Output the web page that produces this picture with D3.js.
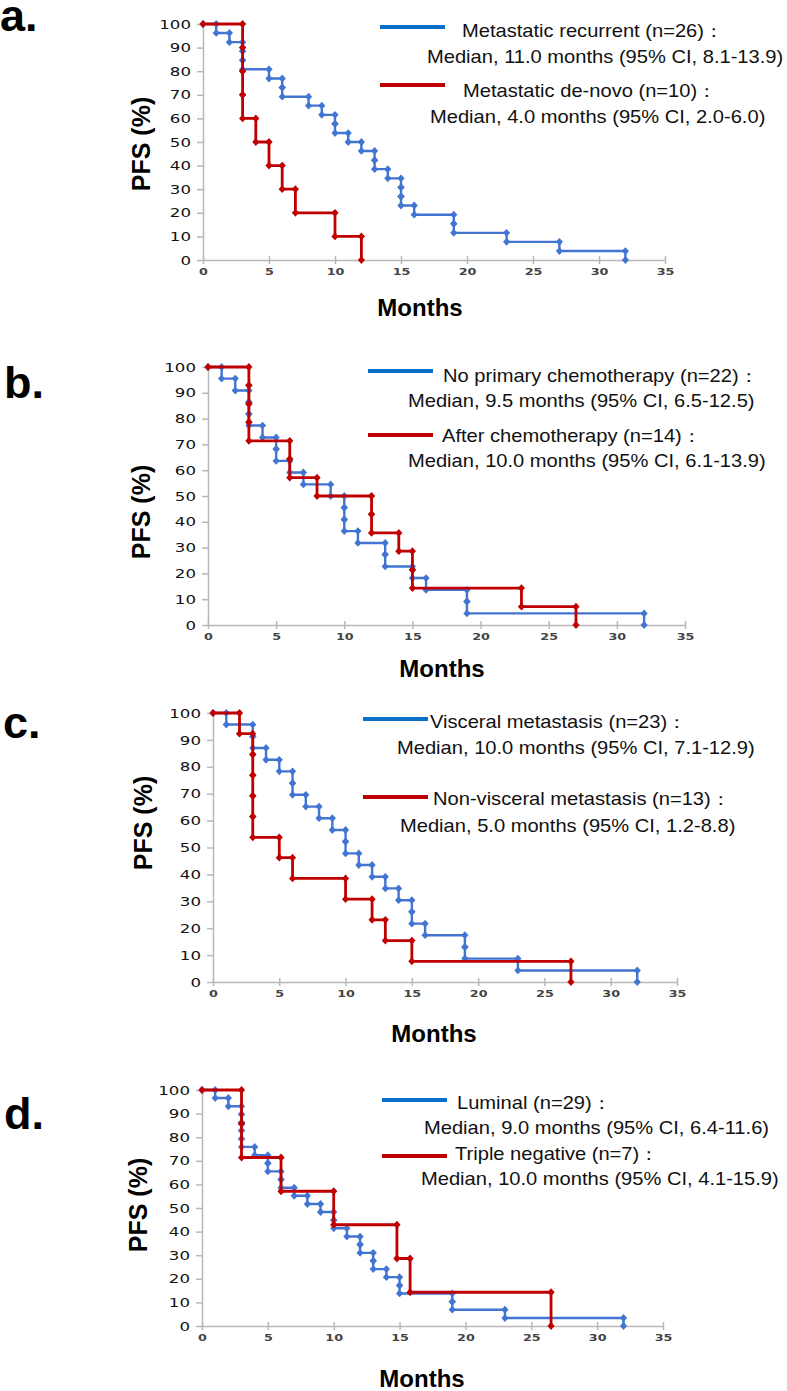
<!DOCTYPE html>
<html>
<head>
<meta charset="utf-8">
<script src="https://cdn.jsdelivr.net/npm/d3@7"></script>
<style>
  body { margin: 0; background: #fff; }
  svg { display: block; font-family: "Liberation Sans", Arial, sans-serif; }
</style>
</head>
<body>
<svg></svg>
<script>
// PFS step values (months, %)
const aRecurrentTimes = [0, 1, 2, 3, 3, 3, 5, 6, 6, 8, 9, 10, 10, 11, 12, 13, 13, 14, 15, 15, 15, 16, 19, 19, 23, 27, 32];
const aRecurrentPfs   = [100, 96.2, 92.3, 88.5, 84.6, 80.8, 76.9, 73.1, 69.2, 65.4, 61.5, 57.7, 53.8, 50.0, 46.2, 42.3, 38.5, 34.6, 30.8, 26.9, 23.1, 19.2, 15.4, 11.5, 7.7, 3.8, 0];
const aDeNovoTimes = [0, 3, 3, 3, 3, 4, 5, 6, 7, 10, 12];
const aDeNovoPfs   = [100, 90, 80, 70, 60, 50, 40, 30, 20, 10, 0];

const bNoChemoTimes = [0, 1, 2, 3, 3, 3, 4, 5, 5, 6, 7, 9, 10, 10, 10, 11, 13, 13, 15, 16, 19, 19, 32];
const bNoChemoPfs   = [100, 95.5, 90.9, 86.4, 81.8, 77.3, 72.7, 68.2, 63.6, 59.1, 54.5, 50.0, 45.5, 40.9, 36.4, 31.8, 27.3, 22.7, 18.2, 13.6, 9.1, 4.5, 0];
const bAfterChemoTimes = [0, 3, 3, 3, 3, 6, 6, 8, 12, 12, 14, 15, 15, 23, 27];
const bAfterChemoPfs   = [100, 92.9, 85.7, 78.6, 71.4, 64.3, 57.1, 50.0, 42.9, 35.7, 28.6, 21.4, 14.3, 7.1, 0];

const cVisceralTimes = [0, 1, 3, 3, 4, 5, 6, 6, 7, 8, 9, 10, 10, 11, 12, 13, 14, 15, 15, 16, 19, 19, 23, 32];
const cVisceralPfs   = [100, 95.7, 91.3, 87.0, 82.6, 78.3, 73.9, 69.6, 65.2, 60.9, 56.5, 52.2, 47.8, 43.5, 39.1, 34.8, 30.4, 26.1, 21.7, 17.4, 13.0, 8.7, 4.3, 0];
const cNonVisceralTimes = [0, 2, 3, 3, 3, 3, 3, 5, 6, 10, 12, 13, 15, 27];
const cNonVisceralPfs   = [100, 92.3, 84.6, 76.9, 69.2, 61.5, 53.8, 46.2, 38.5, 30.8, 23.1, 15.4, 7.7, 0];

const dLuminalTimes = [0, 1, 2, 3, 3, 3, 3, 3, 4, 5, 5, 6, 6, 7, 8, 9, 10, 10, 11, 12, 12, 13, 13, 14, 15, 15, 19, 19, 23, 32];
const dLuminalPfs   = [100, 96.6, 93.1, 89.7, 86.2, 82.8, 79.3, 75.9, 72.4, 69.0, 65.5, 62.1, 58.6, 55.2, 51.7, 48.3, 44.8, 41.4, 37.9, 34.5, 31.0, 27.6, 24.1, 20.7, 17.2, 13.8, 10.3, 6.9, 3.4, 0];
const dTripleNegTimes = [0, 3, 3, 6, 10, 14.8, 15.8, 26.5];
const dTripleNegPfs   = [100, 85.7, 71.4, 57.1, 42.9, 28.6, 14.3, 0];

const panelLabels = ['a.', 'b.', 'c.', 'd.'];
const legendNames = [
  ['Metastatic recurrent (n=26)：', 'Metastatic de-novo (n=10)：'],
  ['No primary chemotherapy (n=22)：', 'After chemotherapy (n=14)：'],
  ['Visceral metastasis (n=23)：', 'Non-visceral metastasis (n=13)：'],
  ['Luminal (n=29)：', 'Triple negative (n=7)：']
];
const legendMedians = [
  ['Median, 11.0 months (95% CI, 8.1-13.9)', 'Median, 4.0 months (95% CI, 2.0-6.0)'],
  ['Median, 9.5 months (95% CI, 6.5-12.5)', 'Median, 10.0 months (95% CI, 6.1-13.9)'],
  ['Median, 10.0 months (95% CI, 7.1-12.9)', 'Median,  5.0 months (95% CI, 1.2-8.8)'],
  ['Median, 9.0 months (95% CI, 6.4-11.6)', 'Median, 10.0 months (95% CI, 4.1-15.9)']
];
const xTicks = [0, 5, 10, 15, 20, 25, 30, 35];
const yTicks = [0, 10, 20, 30, 40, 50, 60, 70, 80, 90, 100];

const seriesData = [
  [[aRecurrentTimes, aRecurrentPfs], [aDeNovoTimes, aDeNovoPfs]],
  [[bNoChemoTimes, bNoChemoPfs], [bAfterChemoTimes, bAfterChemoPfs]],
  [[cVisceralTimes, cVisceralPfs], [cNonVisceralTimes, cNonVisceralPfs]],
  [[dLuminalTimes, dLuminalPfs], [dTripleNegTimes, dTripleNegPfs]]
];

// page layout, in pixels
const size = {w: 787, h: 1391};
const layout = [
  {x0: 203, x1: 665, yTop: 24, yBot: 260, letterX: 0, letterY: 31, pfsX: 142, pfsY: 144, monthsX: 420, monthsY: 316,
   leg: [{lx1: 380, lx2: 445, ly: 27, t1x: 462, t1y: 37, t2x: 427, t2y: 63},
         {lx1: 380, lx2: 445, ly: 85, t1x: 463, t1y: 97, t2x: 430, t2y: 123}]},
  {x0: 208, x1: 685, yTop: 367, yBot: 625, letterX: 4, letterY: 398, pfsX: 142, pfsY: 512, monthsX: 442, monthsY: 677,
   leg: [{lx1: 368, lx2: 433, ly: 371, t1x: 443, t1y: 382, t2x: 408, t2y: 407},
         {lx1: 368, lx2: 433, ly: 435, t1x: 442, t1y: 442, t2x: 408, t2y: 467}]},
  {x0: 213, x1: 677, yTop: 713, yBot: 982, letterX: 3, letterY: 738, pfsX: 144, pfsY: 823, monthsX: 434, monthsY: 1042,
   leg: [{lx1: 363, lx2: 428, ly: 719, t1x: 430, t1y: 728, t2x: 397, t2y: 754},
         {lx1: 363, lx2: 428, ly: 797, t1x: 433, t1y: 805, t2x: 400, t2y: 832}]},
  {x0: 202, x1: 663, yTop: 1090, yBot: 1326, letterX: 4, letterY: 1129, pfsX: 139, pfsY: 1205, monthsX: 422, monthsY: 1387,
   leg: [{lx1: 382, lx2: 447, ly: 1100, t1x: 457, t1y: 1109, t2x: 424, t2y: 1134},
         {lx1: 382, lx2: 447, ly: 1156, t1x: 455, t1y: 1160, t2x: 421, t2y: 1185}]}
];
const curveColors = ['#4275d1', '#c00000'];
const legendColors = ['#0a6fc8', '#c00000'];
const curveWidths = [2.4, 2.8];

const svg = d3.select('svg')
    .attr('width', size.w)
    .attr('height', size.h);

// text with horizontal stretch (the original fonts are wide)
function addText(g, x, y, str, opt) {
  return g.append('text')
      .attr('transform', 'translate(' + x + ',' + y + ') scale(' + (opt.sx || 1) + ',1)')
      .attr('text-anchor', opt.anchor || 'start')
      .style('font-size', opt.size + 'px')
      .style('font-weight', opt.weight || 'normal')
      .attr('fill', opt.fill || '#000')
      .text(str);
}

const diamond = 'M0,-3.9L3.6,0L0,3.9L-3.6,0Z';

layout.forEach(function (L, p) {
  const g = svg.append('g').attr('class', 'panel');
  const x = d3.scaleLinear().domain([0, 35]).range([L.x0, L.x1]);
  const y = d3.scaleLinear().domain([0, 100]).range([L.yBot, L.yTop]);

  // axes
  const yAxis = g.append('g')
      .attr('transform', 'translate(' + L.x0 + ',0)')
      .call(d3.axisLeft(y).tickValues(yTicks).tickSize(6).tickSizeOuter(0).tickPadding(0));
  yAxis.selectAll('text')
      .attr('x', -12 / 1.3)
      .attr('transform', 'scale(1.3,1)')
      .style('font-size', '12.8px')
      .attr('fill', '#111');

  const xAxis = g.append('g')
      .attr('transform', 'translate(0,' + L.yBot + ')')
      .call(d3.axisBottom(x).tickValues(xTicks).tickSize(4).tickSizeOuter(0).tickPadding(0));
  xAxis.selectAll('.tick line').attr('y1', -4);
  xAxis.selectAll('text')
      .attr('y', 9)
      .attr('transform', 'scale(1.5,1)')
      .style('font-size', '8.5px')
      .style('font-weight', 'bold')
      .attr('fill', '#444');

  g.selectAll('.domain, .tick line')
      .attr('stroke', '#b8b8b8')
      .attr('stroke-width', 1.5);
  g.selectAll('.tick text').style('font-family', '"DejaVu Sans", sans-serif');

  // curves
  seriesData[p].forEach(function (s, k) {
    const pts = s[0].map((t, i) => [t, s[1][i]]);
    const line = d3.line()
        .x(d => x(d[0]))
        .y(d => y(d[1]))
        .curve(d3.curveStepAfter);
    g.append('path')
        .attr('d', line(pts))
        .attr('fill', 'none')
        .attr('stroke', curveColors[k])
        .attr('stroke-width', curveWidths[k]);

    // markers at both ends of each drop
    const marks = [pts[0]];
    for (let i = 1; i < pts.length; i++) {
      marks.push([pts[i][0], pts[i - 1][1]]);
      marks.push(pts[i]);
    }
    g.selectAll(null)
        .data(marks)
        .enter()
        .append('path')
        .attr('d', diamond)
        .attr('transform', d => 'translate(' + x(d[0]) + ',' + y(d[1]) + ')')
        .attr('fill', curveColors[k]);
  });

  // legend
  L.leg.forEach(function (lg, k) {
    g.append('line')
        .attr('x1', lg.lx1).attr('x2', lg.lx2)
        .attr('y1', lg.ly).attr('y2', lg.ly)
        .attr('stroke', legendColors[k])
        .attr('stroke-width', 4);
    addText(g, lg.t1x, lg.t1y, legendNames[p][k], {size: 17.5, sx: 1.15, fill: '#111'});
    addText(g, lg.t2x, lg.t2y, legendMedians[p][k], {size: 17.5, sx: 1.15, fill: '#111'});
  });

  // labels
  addText(g, L.letterX, L.letterY, panelLabels[p], {size: 45, weight: 'bold'});
  addText(g, L.monthsX, L.monthsY, 'Months', {size: 24, weight: 'bold', anchor: 'middle'});
  g.append('text')
      .attr('transform', 'translate(' + (L.pfsX + 8) + ',' + L.pfsY + ') rotate(-90)')
      .attr('text-anchor', 'middle')
      .style('font-size', '25px')
      .style('font-weight', 'bold')
      .text('PFS (%)');
});
</script>
</body>
</html>
